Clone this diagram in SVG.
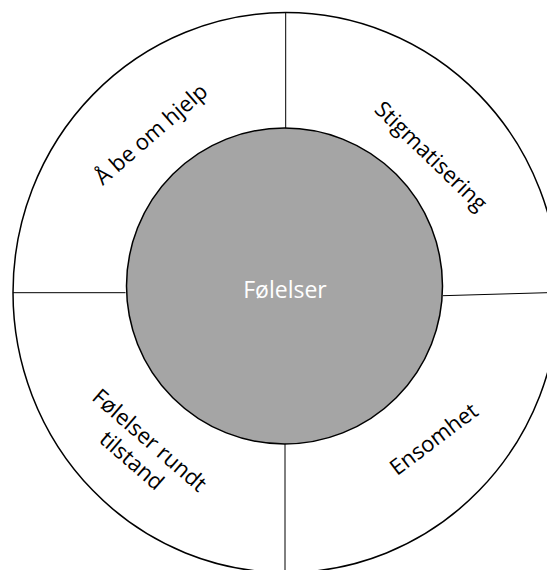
<svg xmlns="http://www.w3.org/2000/svg" width="547" height="570" viewBox="0 0 547 570">
<style>
.ring{fill:#fff;stroke:#000;stroke-width:1.5}
.core{fill:#a5a5a5;stroke:#000;stroke-width:1.5}
.div{stroke:#000;stroke-width:1;fill:none}
.lbl{font-family:"Open Sans","Liberation Sans",sans-serif;font-size:22px;fill:#000;text-anchor:middle;dominant-baseline:central}
.ctr{font-family:"Open Sans","Liberation Sans",sans-serif;font-size:23px;fill:#fff;text-anchor:middle;dominant-baseline:central}
</style>
<rect width="547" height="570" fill="#fff"/>
<g id="outer">
<ellipse class="ring" cx="286" cy="292.6" rx="273" ry="280"/>
</g>
<g id="connectors">
<line class="div" x1="285.7" y1="12.6" x2="285.7" y2="128.5"/>
<line class="div" x1="13" y1="292.7" x2="125.5" y2="292.7"/>
<line class="div" x1="443" y1="295.7" x2="547" y2="292.7"/>
<line class="div" x1="285" y1="443" x2="285" y2="570"/>
</g>
<g id="center">
<circle class="core" cx="284.5" cy="286" r="158"/>
<text class="ctr" x="285" y="289">Følelser</text>
</g>
<g id="be-om-hjelp">
<text class="lbl" transform="translate(150,133) rotate(-41)">Å be om hjelp</text>
</g>
<g id="stigmatisering">
<text class="lbl" transform="translate(432,155) rotate(44)">Stigmatisering</text>
</g>
<g id="ensomhet">
<text class="lbl" transform="translate(433,438) rotate(-37)">Ensomhet</text>
</g>
<g id="folelser-rundt-tilstand">
<text class="lbl" transform="translate(142,449) rotate(41)"><tspan x="0" y="-13">Følelser rundt</tspan><tspan x="0" y="14">tilstand</tspan></text>
</g>
</svg>
